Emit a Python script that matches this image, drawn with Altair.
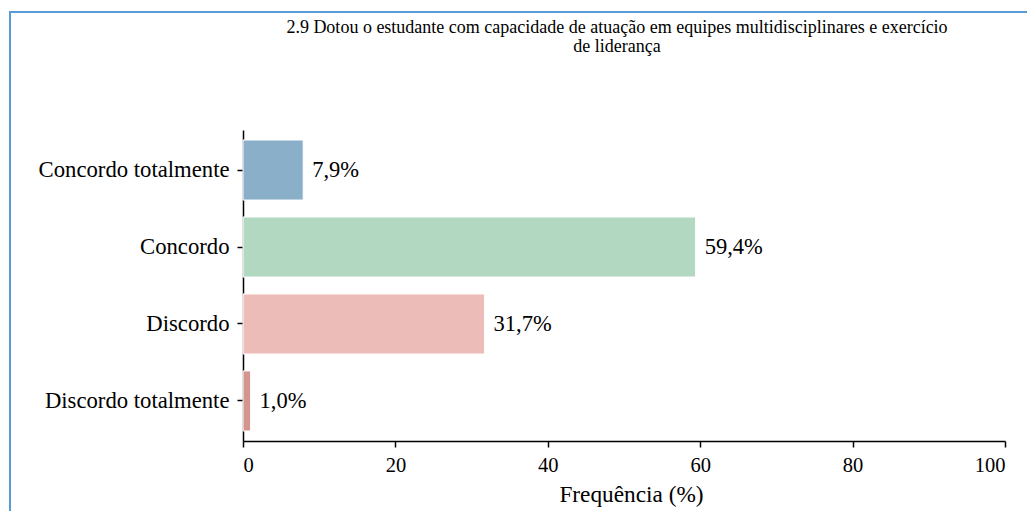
import altair as alt
import pandas as pd

categories = ["Concordo totalmente", "Concordo", "Discordo", "Discordo totalmente"]
values = [7.9, 59.4, 31.7, 1.0]
labels = ["7,9%", "59,4%", "31,7%", "1,0%"]
colors = ["#8aafc8", "#b2d8c2", "#ecbcb8", "#d4958f"]
x_ticks = [0, 20, 40, 60, 80, 100]
title_text = ("2.9 Dotou o estudante com capacidade de atuação em equipes multidisciplinares e exercício"
              "\nde liderança")

df = pd.DataFrame({"cat": categories, "val": values, "lab": labels})
FONT = "Liberation Serif"

y_enc = alt.Y(
    "cat:N",
    sort=categories,
    title=None,
    scale=alt.Scale(paddingInner=0.22, paddingOuter=0.13),
    axis=alt.Axis(
        labelFont=FONT, labelFontSize=22.7, labelColor="black", labelPadding=8,
        labelLimit=400, tickSize=6, tickColor="black", tickWidth=1.5,
        domainColor="black", domainWidth=1.5, grid=False,
    ),
)
x_enc = alt.X(
    "val:Q",
    title="Frequência (%)",
    scale=alt.Scale(domain=[0, 100], nice=False),
    axis=alt.Axis(
        values=x_ticks, labelFont=FONT, labelFontSize=20.5, labelColor="black",
        labelPadding=8, tickSize=6, tickColor="black", tickWidth=1.5,
        domainColor="black", domainWidth=1.5, grid=False,
        titleFont=FONT, titleFontSize=23.3, titleFontWeight="normal",
        titleColor="black", titlePadding=8, titleX=388,
    ),
)

bars = alt.Chart(df).mark_bar(stroke="white", strokeWidth=1).encode(
    y=y_enc,
    x=x_enc,
    color=alt.Color("cat:N", scale=alt.Scale(domain=categories, range=colors), legend=None),
)

text = alt.Chart(df).mark_text(
    align="left", baseline="middle", dx=9, font=FONT, fontSize=22.5, color="black"
).encode(y=alt.Y("cat:N", sort=categories), x="val:Q", text="lab:N")

frame = alt.Chart(pd.DataFrame({"a": [0]})).mark_rect(
    fill=None, stroke="#5b9bd5", strokeWidth=2
).encode(
    x=alt.value(-233), x2=alt.value(900), y=alt.value(-118), y2=alt.value(520)
)

title = alt.Chart(pd.DataFrame({"t": [title_text]})).mark_text(
    font=FONT, fontSize=18, color="black", align="center", baseline="middle",
    lineBreak="\n", lineHeight=19,
).encode(x=alt.value(374), y=alt.value(-102), text="t:N")

chart = alt.layer(frame, title, bars, text).properties(
    width=762,
    height=311,
    autosize=alt.AutoSizeParams(type="none"),
    padding={"left": 235, "top": 122, "right": 22, "bottom": 70},
).configure(background="white").configure_view(stroke=None)

chart.save("out.html", embed_options={"renderer": "svg", "actions": False})
